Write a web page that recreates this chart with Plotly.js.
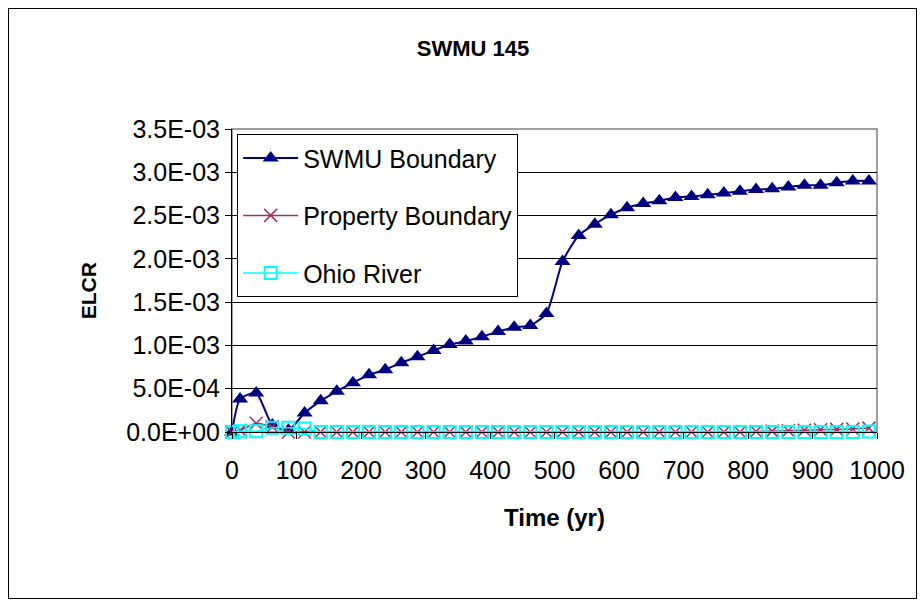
<!DOCTYPE html>
<html>
<head>
<meta charset="utf-8">
<script src="https://cdn.plot.ly/plotly-3.0.1.min.js"></script>
<style>
  html, body { margin: 0; padding: 0; background: #fff; }
  #wrap { position: relative; width: 924px; height: 605px; }
  #chart { position: absolute; left: 0; top: 0; width: 924px; height: 605px; }
  #frame { position: absolute; left: 8px; top: 8px; width: 907px; height: 589px; border: 1px solid #000; pointer-events: none; }
</style>
</head>
<body>
<div id="wrap">
  <div id="chart"></div>
  <div id="frame"></div>
</div>
<script>
const years = [0, 12.5, 37.5, 62.5, 87.5, 112.5, 137.5, 162.5, 187.5, 212.5,
  237.5, 262.5, 287.5, 312.5, 337.5, 362.5, 387.5, 412.5, 437.5, 462.5,
  487.5, 512.5, 537.5, 562.5, 587.5, 612.5, 637.5, 662.5, 687.5, 712.5,
  737.5, 762.5, 787.5, 812.5, 837.5, 862.5, 887.5, 912.5, 937.5, 962.5, 987.5];

const swmuBoundary = [0, 3.8e-4, 4.5e-4, 0.8e-4, 0.2e-4, 2.2e-4, 3.6e-4, 4.7e-4, 5.7e-4, 6.6e-4,
  7.2e-4, 8.0e-4, 8.7e-4, 9.4e-4, 1.01e-3, 1.05e-3, 1.10e-3, 1.16e-3, 1.21e-3, 1.23e-3,
  1.37e-3, 1.97e-3, 2.27e-3, 2.40e-3, 2.51e-3, 2.59e-3, 2.64e-3, 2.67e-3, 2.71e-3, 2.72e-3,
  2.74e-3, 2.76e-3, 2.78e-3, 2.80e-3, 2.81e-3, 2.83e-3, 2.85e-3, 2.85e-3, 2.88e-3, 2.90e-3, 2.90e-3];

const propertyBoundary = [0, 0.2e-4, 1.0e-4, 0.6e-4, 0, 0, 0, 0, 0, 0,
  0, 0, 0, 0, 0, 0, 0, 0, 0, 0,
  0, 0, 0, 0, 0, 0, 0, 0, 0, 0,
  0, 0, 0, 0.05e-4, 0.1e-4, 0.15e-4, 0.2e-4, 0.25e-4, 0.3e-4, 0.35e-4, 0.45e-4];

const ohioRiver = [0, 0.1e-4, 0.1e-4, 0.5e-4, 0.5e-4, 0.4e-4, 0, 0, 0, 0,
  0, 0, 0, 0, 0, 0, 0, 0, 0, 0,
  0, 0, 0, 0, 0, 0, 0, 0, 0, 0,
  0, 0, 0, 0, 0, 0, 0, 0, 0, 0, 0.05e-4];

const yTickVals = [0, 5e-4, 1e-3, 1.5e-3, 2e-3, 2.5e-3, 3e-3, 3.5e-3];
const yTickText = ["0.0E+00", "5.0E-04", "1.0E-03", "1.5E-03", "2.0E-03", "2.5E-03", "3.0E-03", "3.5E-03"];
const xTickVals = [0, 100, 200, 300, 400, 500, 600, 700, 800, 900, 1000];
const xTickText = ["0", "100", "200", "300", "400", "500", "600", "700", "800", "900", "1000"];

const FONT = "Arial, 'Liberation Sans', sans-serif";

const traces = [
  {
    x: years, y: swmuBoundary, name: "SWMU Boundary", type: "scatter", mode: "lines+markers",
    line: { color: "#000080", width: 2, shape: "spline", smoothing: 0.6 },
    marker: { symbol: "triangle-up", size: 14, color: "#000080" },
    cliponaxis: false, legendgroup: "a"
  },
  {
    x: years, y: propertyBoundary, name: "Property Boundary", type: "scatter", mode: "lines+markers",
    line: { color: "#993366", width: 1.5, shape: "spline", smoothing: 0.6 },
    marker: { symbol: "x-thin-open", size: 13, color: "#993366", line: { color: "#993366", width: 1.5 } },
    cliponaxis: false, legendgroup: "b"
  },
  {
    x: years, y: ohioRiver, name: "Ohio River", type: "scatter", mode: "lines+markers",
    line: { color: "#00FFFF", width: 1.5, shape: "spline", smoothing: 0.6 },
    marker: { symbol: "square-open", size: 12, color: "#00FFFF", line: { color: "#00FFFF", width: 2 } },
    cliponaxis: false, legendgroup: "c"
  }
];

const layout = {
  width: 924, height: 605,
  margin: { l: 232, r: 47, t: 129, b: 173 },
  paper_bgcolor: "#ffffff", plot_bgcolor: "#ffffff",
  font: { family: FONT, color: "#000", size: 22 },
  showlegend: true,
  title: { text: "<b>SWMU 145</b>", font: { family: FONT, size: 22, color: "#000" },
           x: 0.512, xanchor: "center", y: 0.92, yanchor: "middle" },
  xaxis: {
    range: [0, 1000], tickvals: xTickVals, ticktext: xTickText,
    ticks: "outside", ticklen: 6, tickcolor: "#000", tickwidth: 1,
    showline: true, linecolor: "#000", linewidth: 1, mirror: false,
    showgrid: false, zeroline: false, ticklabelstandoff: 10,
    tickfont: { family: FONT, size: 25, color: "#000" },
    title: { text: "<b>Time (yr)</b>", font: { family: FONT, size: 24, color: "#000" }, standoff: 26 }
  },
  yaxis: {
    range: [0, 3.5e-3], tickvals: yTickVals, ticktext: yTickText,
    ticks: "outside", ticklen: 6, tickcolor: "#000", tickwidth: 1,
    showline: true, linecolor: "#000", linewidth: 1, mirror: false,
    showgrid: true, gridcolor: "#000", gridwidth: 1, zeroline: false,
    tickfont: { family: FONT, size: 25, color: "#000" }
  },
  annotations: [
    { text: "<b>ELCR</b>", textangle: -90, xref: "paper", yref: "paper",
      x: -0.223, y: 0.465, xanchor: "center", yanchor: "middle", showarrow: false,
      font: { family: FONT, size: 21, color: "#000" } }
  ],
  shapes: [
    { type: "rect", xref: "paper", yref: "paper", x0: 0, x1: 1, y0: 0, y1: 1,
      line: { color: "#808080", width: 1.5 }, fillcolor: "rgba(0,0,0,0)", layer: "below" }
  ],
  legend: {
    x: 0.008, y: 0.983, xanchor: "left", yanchor: "top",
    bgcolor: "#ffffff", bordercolor: "#000", borderwidth: 1,
    font: { family: FONT, size: 25, color: "#000" },
    itemwidth: 55, tracegroupgap: 22, traceorder: "grouped"
  }
};

Plotly.newPlot("chart", traces, layout, { displayModeBar: false, staticPlot: true });
</script>
</body>
</html>
